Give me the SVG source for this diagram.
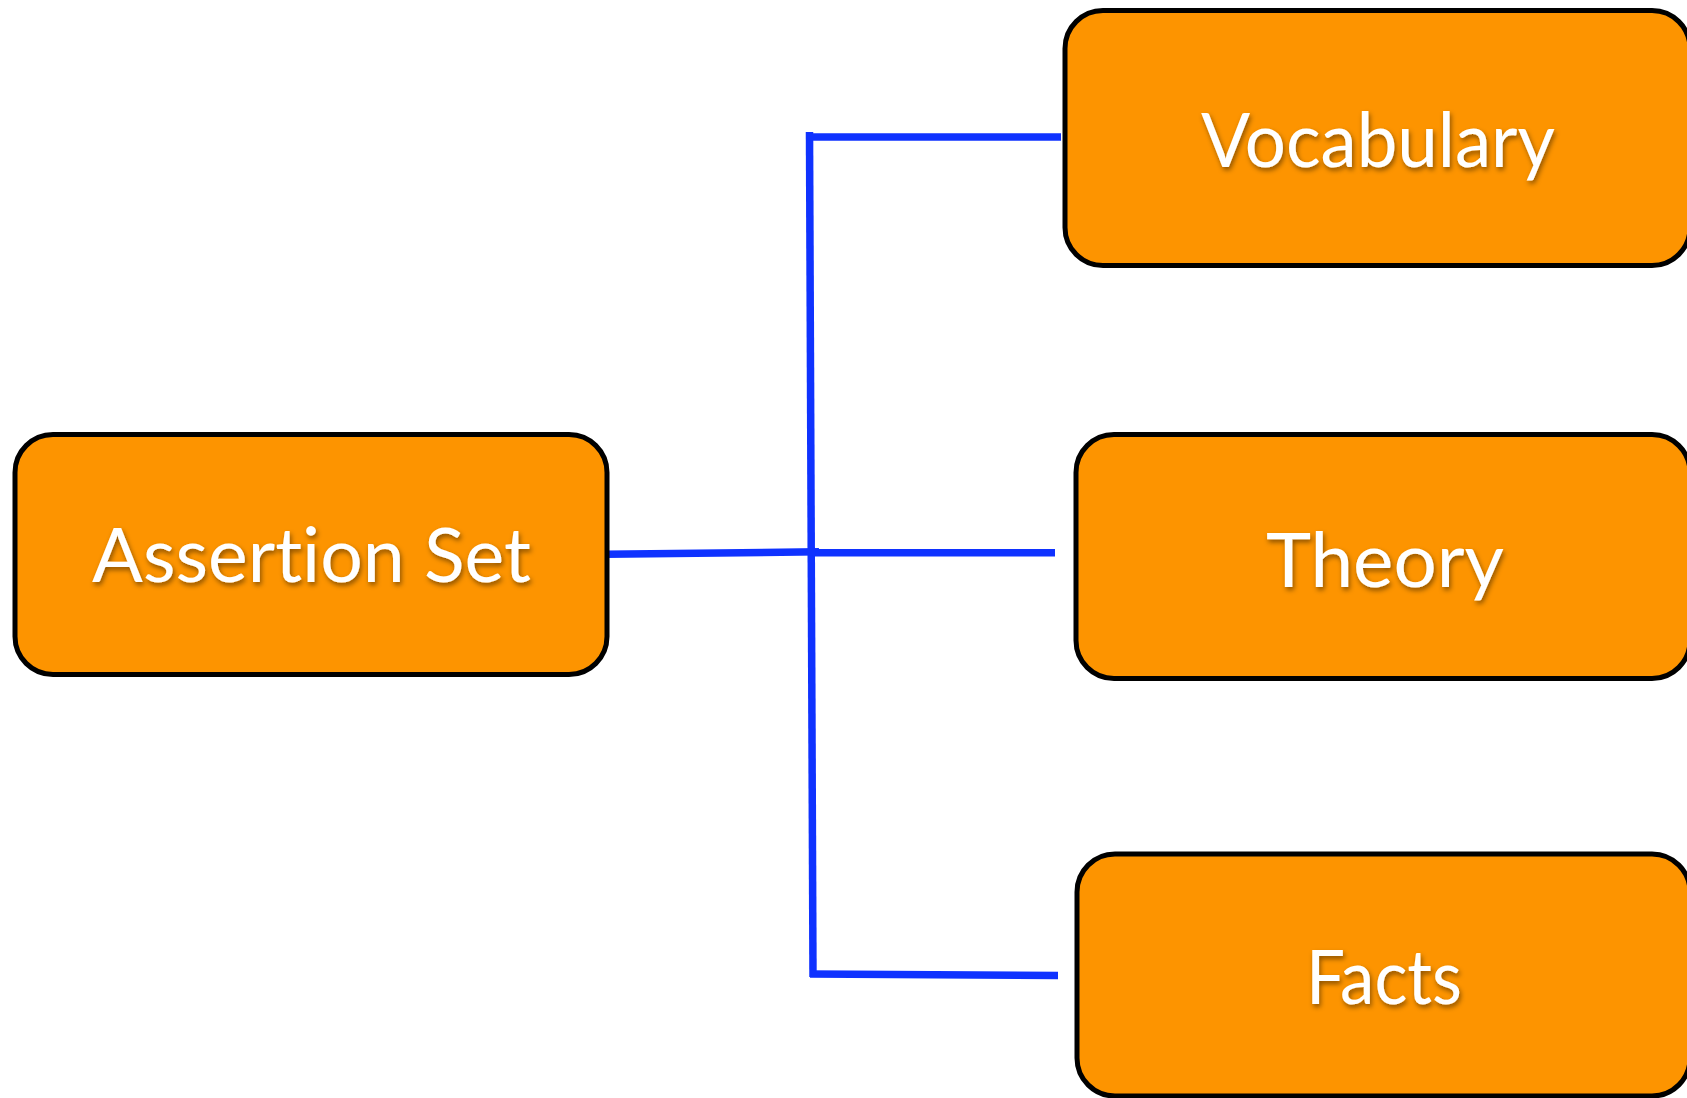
<svg xmlns="http://www.w3.org/2000/svg" width="1687" height="1098" viewBox="0 0 1687 1098">
<style>
.box{fill:#FD9400;stroke:#000;stroke-width:5}
.lbl{fill:#fff;font-family:Lato,"Open Sans","Liberation Sans",sans-serif;font-size:76px;text-anchor:middle;font-variant-ligatures:none;filter:url(#sh)}
.ln{stroke:#0F32FF;stroke-width:7.5;fill:none}
</style>
<defs>
<filter id="sh" x="-10%" y="-20%" width="120%" height="150%">
<feDropShadow dx="1.5" dy="3" stdDeviation="2.5" flood-color="#000" flood-opacity="0.45"/>
</filter>
</defs>
<rect width="1687" height="1098" fill="#fff"/>
<g id="connectors">
<line class="ln" x1="809.5" y1="132" x2="813" y2="977"/>
<line class="ln" x1="806" y1="137" x2="1061" y2="137"/>
<line class="ln" x1="606" y1="554.2" x2="819" y2="551.8"/>
<line class="ln" x1="813" y1="552.8" x2="1055" y2="552.8"/>
<line class="ln" x1="810" y1="974" x2="1058" y2="975.5"/>
</g>
<g id="assertion-set">
<rect class="box" x="15" y="434.5" width="592" height="240" rx="38"/>
<text class="lbl" x="311.5" y="582" textLength="439" lengthAdjust="spacingAndGlyphs">Assertion Set</text>
</g>
<g id="vocabulary">
<rect class="box" x="1065" y="10.5" width="625" height="255" rx="38"/>
<text class="lbl" x="1378" y="167" textLength="354" lengthAdjust="spacingAndGlyphs">Vocabulary</text>
</g>
<g id="theory">
<rect class="box" x="1076" y="434.5" width="614" height="244" rx="38"/>
<text class="lbl" x="1385" y="587" textLength="238" lengthAdjust="spacingAndGlyphs">Theory</text>
</g>
<g id="facts">
<rect class="box" x="1077" y="854" width="613" height="242" rx="38"/>
<text class="lbl" x="1384" y="1004" textLength="156" lengthAdjust="spacingAndGlyphs">Facts</text>
</g>
</svg>
